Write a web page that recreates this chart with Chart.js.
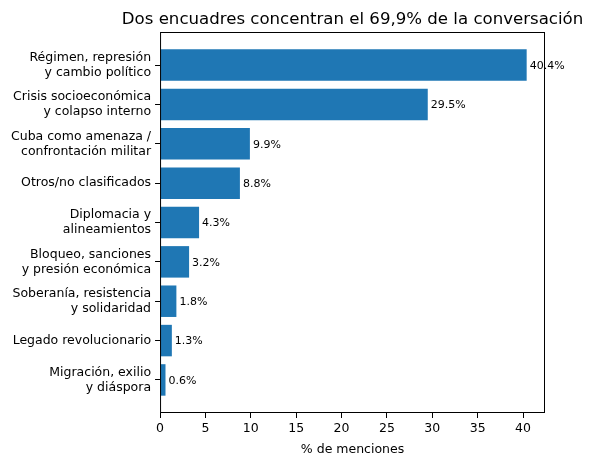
<!DOCTYPE html>
<html>
<head>
<meta charset="utf-8">
<script src="https://cdn.jsdelivr.net/npm/chart.js@4/dist/chart.umd.min.js"></script>
<style>
  body { margin: 0; background: #fff; }
  #wrap { width: 593px; height: 463px; }
</style>
</head>
<body>
<div id="wrap"><canvas id="grafico" width="593" height="463"></canvas></div>
<script>
const categorias = [
    ['Régimen, represión', 'y cambio político'],
    ['Crisis socioeconómica', 'y colapso interno'],
    ['Cuba como amenaza /', 'confrontación militar'],
    ['Otros/no clasificados'],
    ['Diplomacia y', 'alineamientos'],
    ['Bloqueo, sanciones', 'y presión económica'],
    ['Soberanía, resistencia', 'y solidaridad'],
    ['Legado revolucionario'],
    ['Migración, exilio', 'y diáspora']
];
const porcentajes = [40.4, 29.5, 9.9, 8.8, 4.3, 3.2, 1.8, 1.3, 0.6];
const ticksX = [0, 5, 10, 15, 20, 25, 30, 35, 40];
const titulo = 'Dos encuadres concentran el 69,9% de la conversación';

const fuente = 'DejaVu Sans';

// titulo, marco y etiquetas de valor
const extras = {
    id: 'extras',
    afterDatasetsDraw(chart) {
        const ctx = chart.ctx;
        const area = chart.chartArea;
        const xs = chart.scales.x;
        const ys = chart.scales.y;
        ctx.save();
        ctx.strokeStyle = '#000';
        ctx.lineWidth = 1;
        ctx.strokeRect(area.left + 0.5, area.top + 0.5, area.right - area.left - 1, area.bottom - area.top - 1);

        ctx.fillStyle = '#000';
        ctx.font = '16.6px "' + fuente + '"';
        ctx.textAlign = 'center';
        ctx.textBaseline = 'alphabetic';
        ctx.fillText(titulo, (area.left + area.right) / 2, area.top - 8);

        ctx.font = '11px "' + fuente + '"';
        ctx.textAlign = 'left';
        ctx.textBaseline = 'middle';
        porcentajes.forEach((v, i) => {
            ctx.fillText(v.toFixed(1) + '%', xs.getPixelForValue(v) + 3, ys.getPixelForValue(i) + 1);
        });
        ctx.restore();
    }
};

new Chart(document.getElementById('grafico').getContext('2d'), {
    type: 'bar',
    data: {
        datasets: [{
            data: porcentajes.map((v, i) => ({ x: v, y: i })),
            backgroundColor: '#1f77b4',
            borderWidth: 0,
            barPercentage: 0.8,
            categoryPercentage: 1
        }]
    },
    options: {
        indexAxis: 'y',
        responsive: false,
        animation: false,
        devicePixelRatio: 1,
        layout: { padding: { top: 32, right: 48, bottom: 6, left: 7 } },
        plugins: {
            legend: { display: false },
            tooltip: { enabled: false }
        },
        scales: {
            x: {
                type: 'linear',
                min: 0,
                max: 42.42,
                afterBuildTicks: s => { s.ticks = ticksX.map(v => ({ value: v })); },
                grid: { drawOnChartArea: false, drawTicks: true, tickLength: 5, color: '#000' },
                border: { display: false },
                ticks: { color: '#000', font: { family: fuente, size: 12.5 }, padding: 3, maxRotation: 0 },
                title: { display: true, text: '% de menciones', color: '#000', font: { family: fuente, size: 12.5 }, padding: { top: 3, bottom: 0 } }
            },
            y: {
                type: 'linear',
                reverse: true,
                offset: false,
                min: -0.84,
                max: 8.84,
                afterBuildTicks: s => { s.ticks = categorias.map((c, i) => ({ value: i })); },
                grid: { offset: false, drawOnChartArea: false, drawTicks: true, tickLength: 5, color: '#000' },
                border: { display: false },
                ticks: {
                    color: '#000',
                    font: { family: fuente, size: 12.5, lineHeight: 1.2 },
                    padding: 4,
                    callback: v => categorias[v]
                }
            }
        }
    },
    plugins: [extras]
});
</script>
</body>
</html>
